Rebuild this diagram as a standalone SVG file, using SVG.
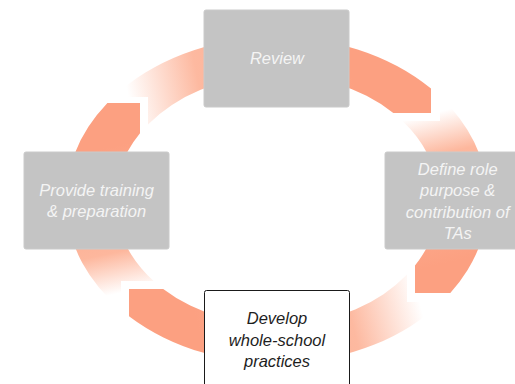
<svg xmlns="http://www.w3.org/2000/svg" width="515" height="384" viewBox="0 0 515 384">
  <style>
    .seg { stroke: none; }
    .box { fill: #c4c4c4; stroke: #cacaca; stroke-width: 1; }
    .dev { fill: #ffffff; stroke: #1a1a1a; stroke-width: 1; }
    .lbl { font-family: "Liberation Sans", Arial, sans-serif; font-style: italic; font-size: 16.5px; text-anchor: middle; fill: #f4f4f4; }
    .lbl-dark { fill: #1e1e1e; }
  </style>
  <defs>
    <linearGradient id="gA" gradientUnits="userSpaceOnUse" x1="130" y1="105" x2="349" y2="60">
      <stop offset="0" stop-color="#ffffff"/>
      <stop offset="0.32" stop-color="#fdb9a0"/>
      <stop offset="1" stop-color="#fca081"/>
    </linearGradient>
    <linearGradient id="gB" gradientUnits="userSpaceOnUse" x1="425" y1="115" x2="460" y2="260">
      <stop offset="0" stop-color="#ffffff"/>
      <stop offset="0.28" stop-color="#fdb79d"/>
      <stop offset="1" stop-color="#fca081"/>
    </linearGradient>
    <linearGradient id="gC" gradientUnits="userSpaceOnUse" x1="418" y1="295" x2="204" y2="350">
      <stop offset="0" stop-color="#ffffff"/>
      <stop offset="0.32" stop-color="#fdb9a0"/>
      <stop offset="1" stop-color="#fca081"/>
    </linearGradient>
    <linearGradient id="gD" gradientUnits="userSpaceOnUse" x1="125" y1="292" x2="95" y2="150">
      <stop offset="0" stop-color="#ffffff"/>
      <stop offset="0.28" stop-color="#fdb79d"/>
      <stop offset="1" stop-color="#fca081"/>
    </linearGradient>
  </defs>

  <g id="connectors">
    <path id="arrow-review-define" class="seg" fill="url(#gA)" d="M113.5,97 L148,97 L148,124.4 A162,125 0 0 1 393.3,113 L431,113 L431,88.6 A211,163 0 0 0 113.5,97 Z"/>
    <path id="arrow-define-develop" class="seg" fill="url(#gB)" d="M440,96.5 L440,121 L402.5,121 A162,125 0 0 1 415,265.5 L415,293 L450.3,293 A211,163 0 0 0 440,96.5 Z"/>
    <path id="arrow-develop-provide" class="seg" fill="url(#gC)" d="M407,274.6 L407,302 L441.6,302 A211,163 0 0 1 129,316.2 L129,289 L163.2,289 A162,125 0 0 0 407,274.6 Z"/>
    <path id="arrow-provide-review" class="seg" fill="url(#gD)" d="M121,309.8 L121,281 L153.6,281 A162,125 0 0 1 140,133.3 L140,103 L107.4,103 A211,163 0 0 0 121,309.8 Z"/>
  </g>

  <g id="node-review">
    <rect class="box" x="204" y="10" width="145" height="97" rx="2"/>
    <text class="lbl" x="277" y="64">Review</text>
  </g>

  <g id="node-define">
    <rect class="box" x="385" y="152" width="145" height="97" rx="2"/>
    <text class="lbl" x="457.7" y="175">Define role</text>
    <text class="lbl" x="457.7" y="196.3">purpose &amp;</text>
    <text class="lbl" x="457.7" y="217.6">contribution of</text>
    <text class="lbl" x="457.7" y="239">TAs</text>
  </g>

  <g id="node-develop">
    <rect class="dev" x="204.5" y="290.5" width="145" height="110" rx="2"/>
    <text class="lbl lbl-dark" x="277" y="324">Develop</text>
    <text class="lbl lbl-dark" x="277" y="345.5">whole-school</text>
    <text class="lbl lbl-dark" x="277" y="367">practices</text>
  </g>

  <g id="node-provide">
    <rect class="box" x="24" y="152" width="145" height="97" rx="2"/>
    <text class="lbl" x="96.6" y="195.5">Provide training</text>
    <text class="lbl" x="96.6" y="217">&amp; preparation</text>
  </g>
</svg>
